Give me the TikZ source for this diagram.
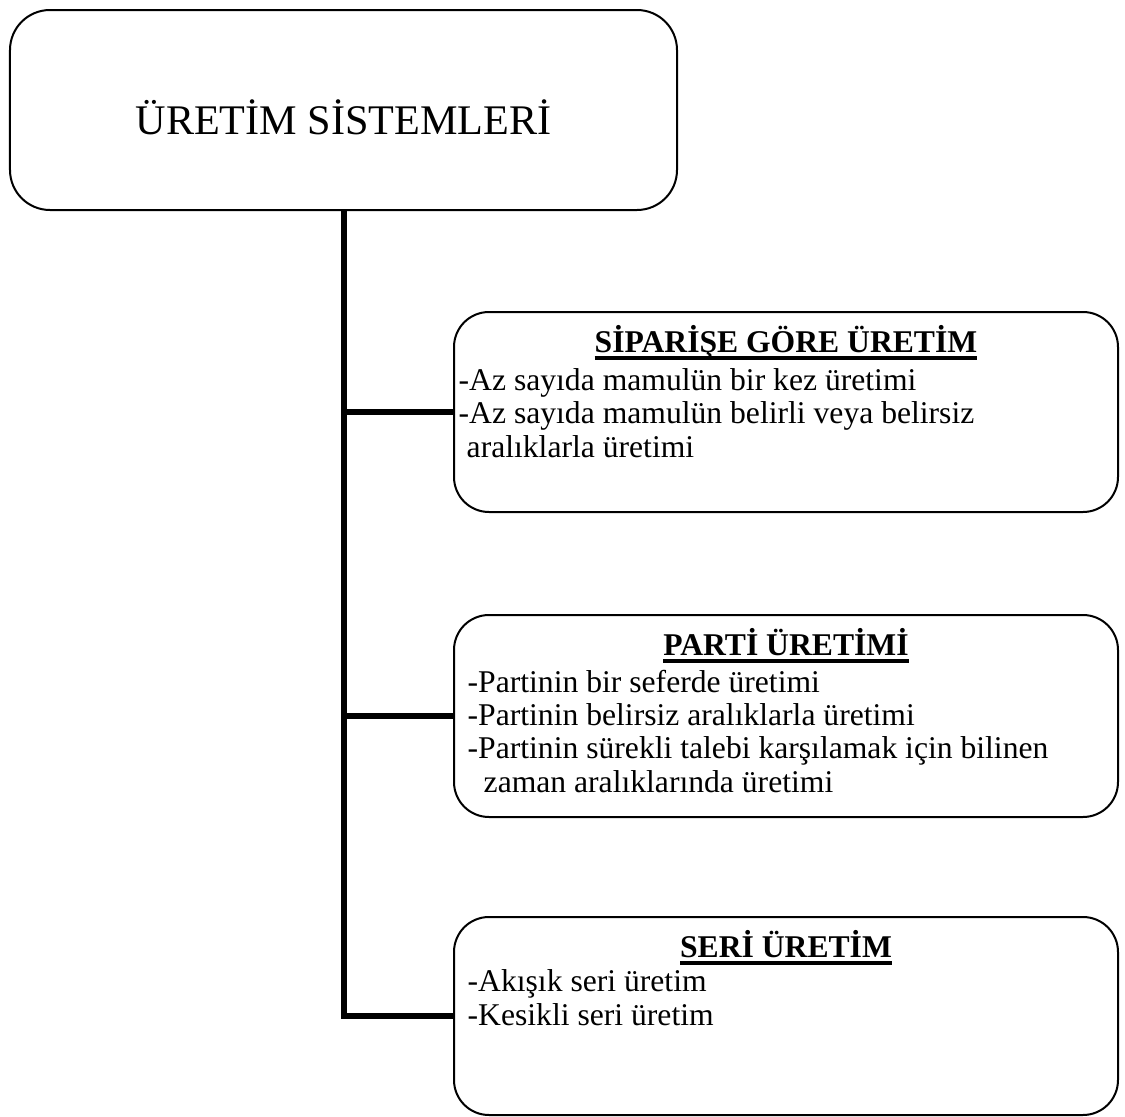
\documentclass[tikz,border=0pt]{standalone}
\usepackage{fontspec}
\setmainfont{Liberation Serif}

\newcommand{\hdrline}[1]{\setbox0\hbox{#1}\rlap{\rule[-0.075cm]{\wd0}{0.035cm}}\box0}

\tikzset{
  box/.style={draw, line width=0.02cm, rounded corners=0.35cm,
    minimum width=6.64cm, minimum height=2cm, inner sep=0pt},
  trunk/.style={line width=0.06cm},
  head/.style={anchor=base, inner sep=0pt,
    font=\fontsize{9pt}{9.47pt}\selectfont\bfseries},
  % base of a list = baseline of its last line
  body/.style={anchor=base west, inner sep=0pt, align=left,
    font=\fontsize{9pt}{9.47pt}\selectfont},
}

\begin{document}
\begin{tikzpicture}
                        \useasboundingbox (0,0) rectangle (11.25,-11.17);

                        % Drawing box top
                        \node (top) [box, rounded corners=0.4cm, minimum width=6.67cm] at (3.435,-1.10) {};%

                        % Drawing box b1
                        \node (b1) [box] at (7.86,-4.12) {};%

                        % Drawing box b2
                        \node (b2) [box, minimum height=2.02cm] at (7.86,-7.16) {};%

                        % Drawing box b3
                        \node (b3) [box, minimum height=1.98cm] at (7.86,-10.16) {};%

                        % Drawing trunk and branches
                        \draw [trunk] (top.south) -- (top.south |- b3.west) -- (b3.west);%
                        \draw [trunk] (top.south |- b1.west) -- (b1.west);%
                        \draw [trunk] (top.south |- b2.west) -- (b2.west);%

                        % Marking title
                        \node (title) [anchor=base, inner sep=0pt, font=\fontsize{12pt}{14pt}\selectfont] at (3.435,-1.34) {ÜRETİM SİSTEMLERİ};%

                        % Marking headings
                        \node (h1) [head] at (7.86,-3.52) {\hdrline{SİPARİŞE GÖRE ÜRETİM}};%
                        \node (h2) [head] at (7.86,-6.55) {\hdrline{PARTİ ÜRETİMİ}};%
                        \node (h3) [head] at (7.86,-9.57) {\hdrline{SERİ ÜRETİM}};%

                        % Marking item lists
                        \node (t1) [body] at (4.58,-4.57) {-Az sayıda mamulün bir kez üretimi\\-Az sayıda mamulün belirli veya belirsiz\\\hspace*{0.08cm}aralıklarla üretimi};%
                        \node (t2) [body] at (4.67,-7.92) {-Partinin bir seferde üretimi\\-Partinin belirsiz aralıklarla üretimi\\-Partinin sürekli talebi karşılamak için bilinen\\\hspace*{0.16cm}zaman aralıklarında üretimi};%
                        \node (t3) [body] at (4.67,-10.25) {-Akışık seri üretim\\-Kesikli seri üretim};%
\end{tikzpicture}
\end{document}
